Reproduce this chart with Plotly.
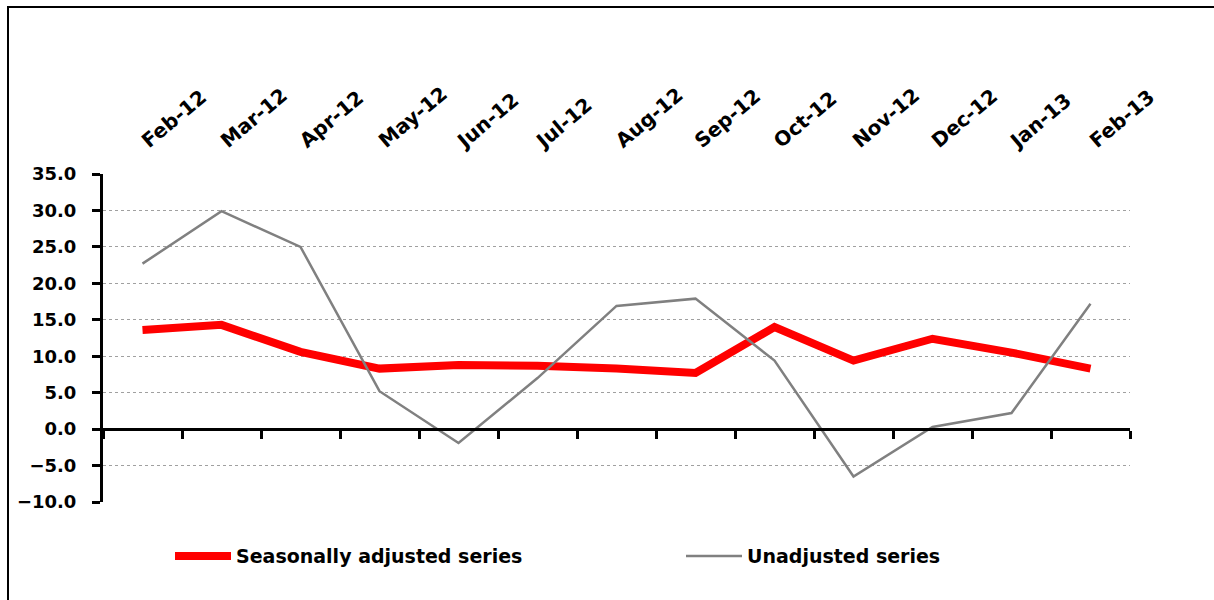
import plotly.graph_objects as go

months = ["Feb-12", "Mar-12", "Apr-12", "May-12", "Jun-12", "Jul-12", "Aug-12",
          "Sep-12", "Oct-12", "Nov-12", "Dec-12", "Jan-13", "Feb-13"]
seasonally_adjusted = [13.6, 14.3, 10.6, 8.3, 8.8, 8.7, 8.3, 7.7, 14.0, 9.4, 12.4, 10.5, 8.3]
unadjusted = [22.7, 29.9, 25.0, 5.2, -1.9, 7.0, 16.9, 17.9, 9.4, -6.5, 0.3, 2.2, 17.2]
y_ticks = [-10, -5, 0, 5, 10, 15, 20, 25, 30, 35]

FONT = "DejaVu Sans"
fig = go.Figure()
fig.add_trace(go.Scatter(x=months, y=seasonally_adjusted, mode="lines",
                         name="Seasonally adjusted series",
                         line=dict(color="#FF0000", width=8)))
fig.add_trace(go.Scatter(x=months, y=unadjusted, mode="lines",
                         name="Unadjusted series",
                         line=dict(color="#808080", width=2.5)))

ymin, ymax = -10, 35
fig.update_layout(
    width=1214, height=600,
    margin=dict(l=103, r=84, t=174, b=98),
    paper_bgcolor="white", plot_bgcolor="white",
    font=dict(family=FONT, size=18, color="black", weight="bold"),
    xaxis=dict(type="category", categoryarray=months, side="top",
               range=[-0.5, 12.5], tickangle=-40, showgrid=False,
               showline=False, ticks="", zeroline=False,
               ticklabelstandoff=18,
               tickfont=dict(family=FONT, size=20, weight="bold")),
    xaxis2=dict(overlaying="x", anchor="free", position=(0 - ymin) / (ymax - ymin),
                range=[-0.5, 12.5], tickvals=[i - 0.5 for i in range(14)],
                showticklabels=False, ticks="outside", ticklen=8, tickwidth=3,
                tickcolor="black", showline=True, linecolor="black", linewidth=3,
                showgrid=False, zeroline=False, side="bottom"),
    yaxis=dict(range=[ymin, ymax], tickvals=y_ticks, tickformat=".1f",
               showline=True, linecolor="black", linewidth=3,
               ticks="outside", ticklen=8, tickwidth=3, tickcolor="black",
               showgrid=True, gridcolor="#A0A0A0", gridwidth=1, griddash="dot",
               zeroline=False, ticklabelstandoff=12,
               tickfont=dict(family=FONT, size=18, weight="bold")),
    legend=dict(orientation="h", x=(170 - 103) / 1027, xanchor="left", y=-0.165, yanchor="middle",
                itemwidth=56, entrywidth=440, entrywidthmode="pixels",
                font=dict(family=FONT, size=19, weight="bold"),
                bgcolor="rgba(0,0,0,0)"),
    showlegend=True,
)
# invisible helper trace so the zero-line axis (xaxis2) is rendered
fig.add_trace(go.Scatter(x=[0], y=[0], xaxis="x2", mode="markers",
                         marker=dict(opacity=0), showlegend=False, hoverinfo="skip"))

fig.add_shape(type="rect", xref="paper", yref="paper",
              x0=(8 - 103) / 1027, x1=1.3, y0=-0.6, y1=1 + (174 - 7) / 328,
              line=dict(color="black", width=2), fillcolor="rgba(0,0,0,0)", layer="above")

fig.write_html("out.html")
